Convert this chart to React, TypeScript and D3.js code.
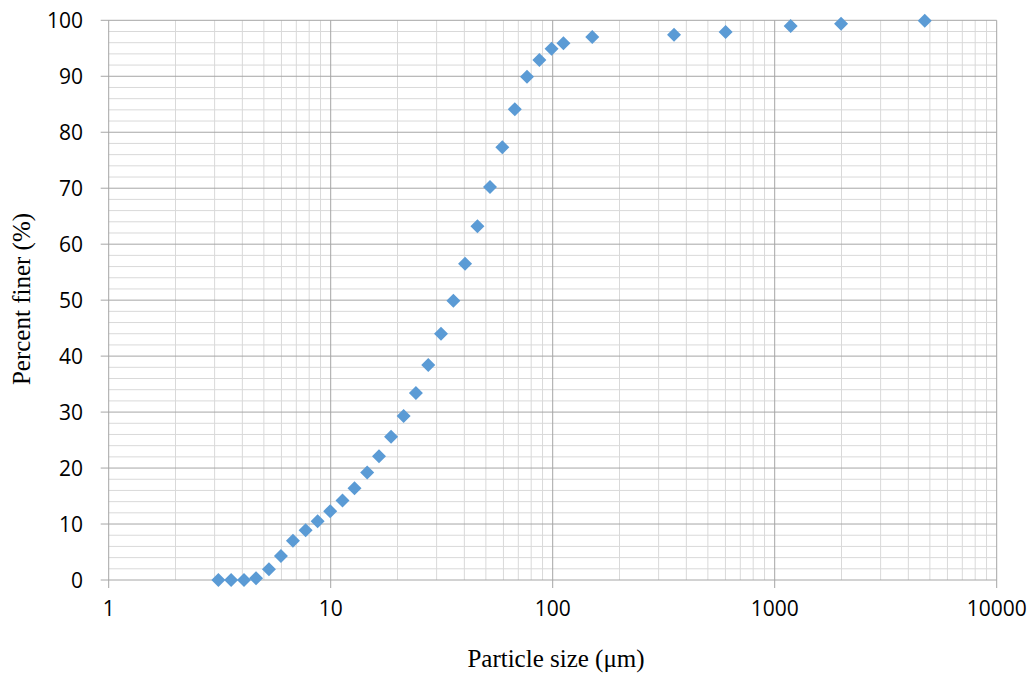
import React from "react";
import * as d3 from "d3";

const particleSizes: number[] = [
  3.12, 3.56, 4.07, 4.61, 5.27, 5.97, 6.76, 7.71, 8.73, 9.95, 11.3, 12.8, 14.6,
  16.5, 18.7, 21.3, 24.2, 27.5, 31.4, 35.7, 40.3, 45.8, 52.2, 59.3, 67.5, 76.6,
  87.1, 98.8, 111.8, 150.7, 352, 601, 1180, 1990, 4740,
];
const percentFiner: number[] = [
  0, 0, 0, 0.3, 1.9, 4.3, 7.0, 8.9, 10.5, 12.3, 14.2, 16.4, 19.2, 22.1, 25.6,
  29.3, 33.4, 38.4, 44.0, 49.9, 56.5, 63.2, 70.2, 77.3, 84.1, 89.9, 92.9, 94.9,
  95.9, 97.0, 97.4, 97.9, 99.0, 99.4, 99.9,
];
const xTickValues: number[] = [1, 10, 100, 1000, 10000];
const yTickValues: number[] = [0, 10, 20, 30, 40, 50, 60, 70, 80, 90, 100];
const yMinorStep = 2;
const xTitle = "Particle size (μm)";
const yTitle = "Percent finer (%)";

const W = 1032;
const H = 673;
const left = 108.7;
const right = 996.7;
const top = 20.3;
const bottom = 580;

export default function App() {
  const x = d3.scaleLog().domain([1, 10000]).range([left, right]);
  const y = d3.scaleLinear().domain([0, 100]).range([bottom, top]);

  const minorX: number[] = [];
  for (let d = 1; d < 10000; d *= 10) {
    for (let k = 2; k <= 9; k++) minorX.push(d * k);
  }
  const minorY = d3.range(0, 100 + 0.001, yMinorStep).filter((v) => v % 10 !== 0);

  const half = 7;
  const diamond = `M0,${-half}L${half},0L0,${half}L${-half},0Z`;

  const minorColor = "#d9d9d9";
  const majorColor = "#a6a6a6";
  const sans = "'Open Sans', 'Liberation Sans', sans-serif";
  const serif = "'Liberation Serif', 'Times New Roman', serif";

  return (
    <svg
      width={W}
      height={H}
      style={{ position: "absolute", left: 0, top: 0, background: "#fff" }}
    >
      <rect x={0} y={0} width={W} height={H} fill="#fff" />
      {/* minor grid */}
      {minorX.map((v) => (
        <line key={"mx" + v} x1={x(v)} x2={x(v)} y1={top} y2={bottom} stroke={minorColor} strokeWidth={1} />
      ))}
      {minorY.map((v) => (
        <line key={"my" + v} x1={left} x2={right} y1={y(v)} y2={y(v)} stroke={minorColor} strokeWidth={1} />
      ))}
      {/* major grid */}
      {yTickValues.map((v) => (
        <line key={"My" + v} x1={left - 8} x2={right} y1={y(v)} y2={y(v)} stroke={majorColor} strokeWidth={1} />
      ))}
      {xTickValues.map((v) => (
        <line key={"Mx" + v} x1={x(v)} x2={x(v)} y1={top} y2={bottom + 8} stroke={majorColor} strokeWidth={1} />
      ))}
      {/* y tick labels */}
      {yTickValues.map((v) => (
        <text
          key={"yl" + v}
          x={83}
          y={y(v)}
          dy="0.36em"
          textAnchor="end"
          fontFamily={sans}
          fontSize={21}
          fill="#000"
        >
          {v}
        </text>
      ))}
      {/* x tick labels */}
      {xTickValues.map((v) => (
        <text
          key={"xl" + v}
          x={x(v)}
          y={616}
          textAnchor="middle"
          fontFamily={sans}
          fontSize={21}
          fill="#000"
        >
          {v}
        </text>
      ))}
      {/* points */}
      {particleSizes.map((s, i) => (
        <path
          key={"p" + i}
          d={diamond}
          transform={`translate(${x(s)},${y(percentFiner[i])})`}
          fill="#5b9bd5"
        />
      ))}
      {/* titles */}
      <text x={556} y={667} textAnchor="middle" fontFamily={serif} fontSize={25} fill="#000">
        {xTitle}
      </text>
      <text
        transform={`translate(30,299) rotate(-90)`}
        textAnchor="middle"
        fontFamily={serif}
        fontSize={25}
        fill="#000"
      >
        {yTitle}
      </text>
    </svg>
  );
}
